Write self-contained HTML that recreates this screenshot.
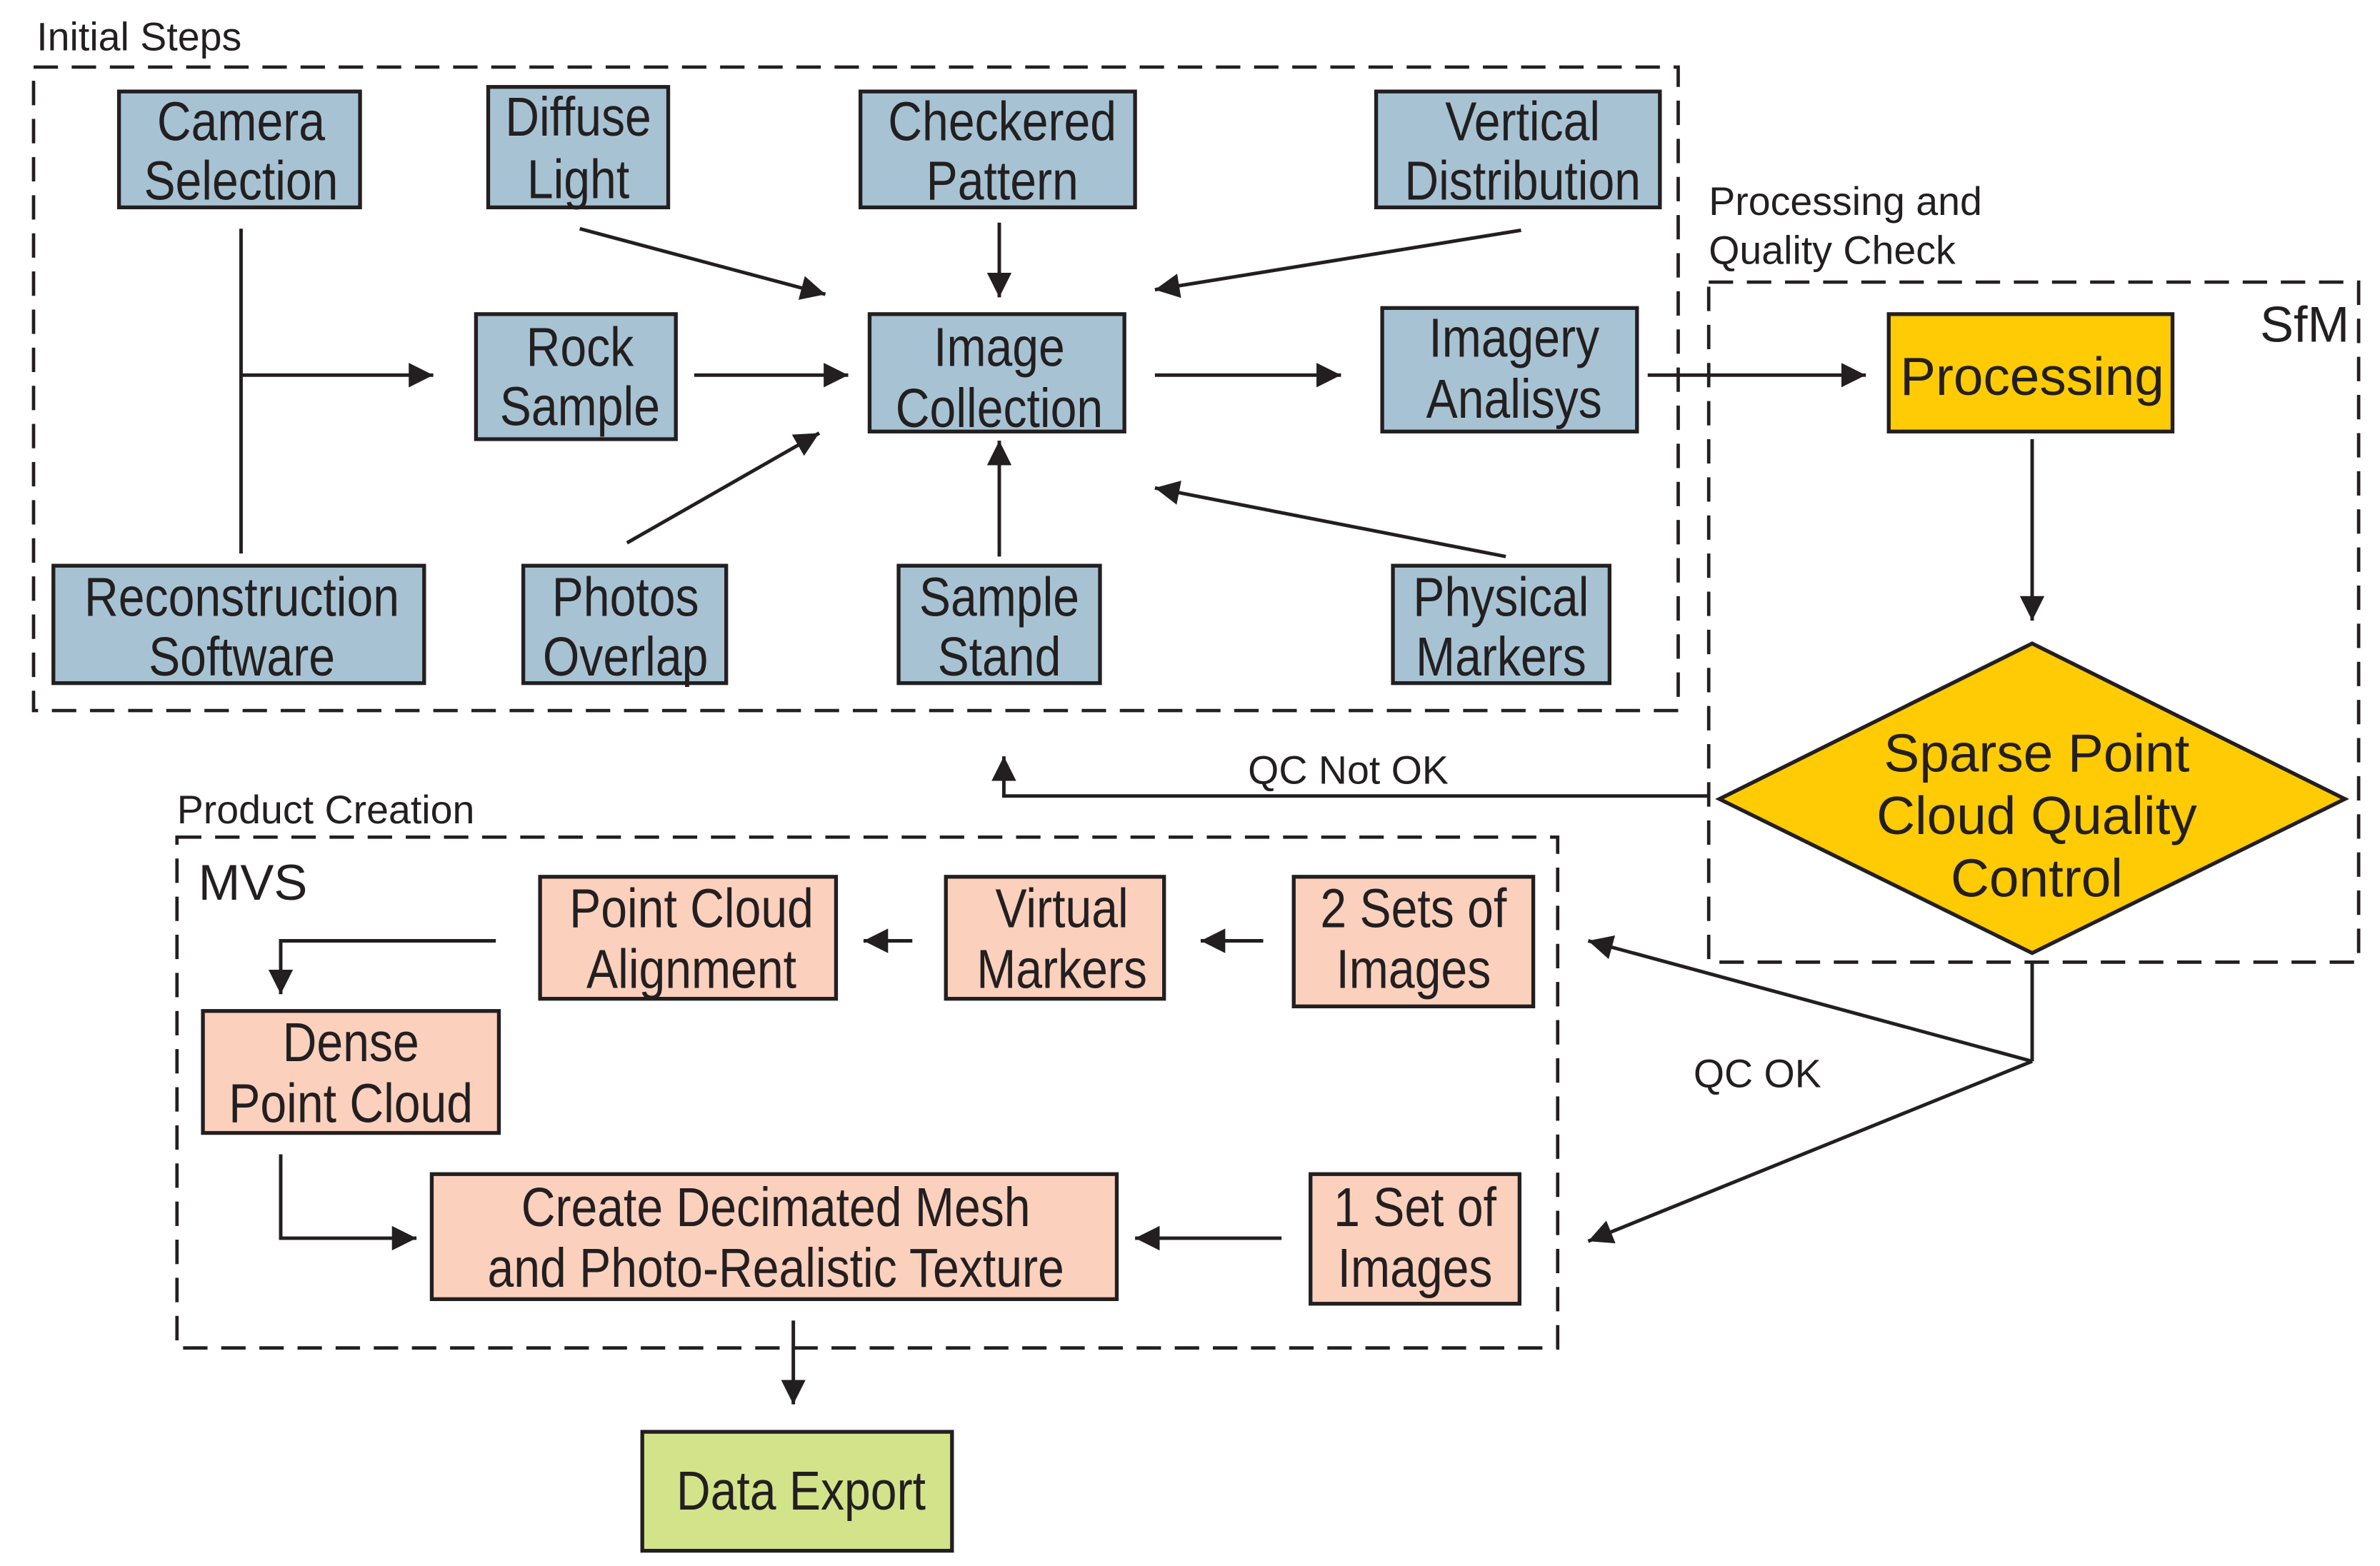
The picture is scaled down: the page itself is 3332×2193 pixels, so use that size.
<!DOCTYPE html>
<html><head><meta charset="utf-8"><style>html,body{margin:0;padding:0;background:#fff}svg{display:block}</style></head>
<body>
<svg width="3332" height="2193" viewBox="0 0 1560 1027" preserveAspectRatio="none" xmlns="http://www.w3.org/2000/svg" font-family="Liberation Sans, sans-serif">
<defs>
<marker id="b" viewBox="0 0 10 10" refX="10" refY="5" markerWidth="7" markerHeight="7" orient="auto"><path d="M0,0 L10,5 L0,10 z" fill="#231f20"/></marker>
</defs>
<g fill="none" stroke="#231f20" stroke-width="2.2" stroke-dasharray="16,9">
<rect x="22" y="44" width="1078" height="422"/>
<rect x="1120" y="185" width="426" height="446"/>
<rect x="116" y="549" width="905" height="335"/>
</g>
<g fill="#231f20" font-size="26">
<text x="24" y="33">Initial Steps</text>
<text x="1120" y="141">Processing and</text>
<text x="1120" y="173">Quality Check</text>
<text x="116" y="540">Product Creation</text>
<text x="818" y="514">QC Not OK</text>
<text x="1110" y="713">QC OK</text>
<text x="1540" y="224" font-size="33" text-anchor="end">SfM</text>
<text x="130" y="590" font-size="33">MVS</text>
</g>
<g stroke="#231f20" stroke-width="2.5">
<g fill="#a7c3d3">
<rect x="78" y="60" width="158" height="76"/>
<rect x="320" y="57" width="118" height="79"/>
<rect x="564" y="60" width="180" height="76"/>
<rect x="902" y="60" width="186" height="76"/>
<rect x="312" y="206" width="131" height="82"/>
<rect x="570" y="206" width="167" height="77"/>
<rect x="906" y="202" width="167" height="81"/>
<rect x="35" y="371" width="243" height="77"/>
<rect x="343" y="371" width="133" height="77"/>
<rect x="589" y="371" width="132" height="77"/>
<rect x="913" y="371" width="142" height="77"/>
</g>
<g fill="#fbd0bd">
<rect x="354" y="575" width="194" height="80"/>
<rect x="620" y="575" width="143" height="80"/>
<rect x="848" y="575" width="157" height="85"/>
<rect x="133" y="663" width="194" height="80"/>
<rect x="283" y="770" width="449" height="82"/>
<rect x="859" y="770" width="137" height="85"/>
</g>
<rect x="421" y="939" width="203" height="78" fill="#d3e38a"/>
<rect x="1238" y="206" width="186" height="77" fill="#ffcb05"/>
<polygon points="1127,524 1332,422 1537,524 1332,625" fill="#ffcb05"/>
</g>
<g stroke="#231f20" stroke-width="2.3" fill="none">
<path d="M158,150 V363"/>
<path d="M158,246 H284" marker-end="url(#b)"/>
<path d="M455,246 H556" marker-end="url(#b)"/>
<path d="M757,246 H879" marker-end="url(#b)"/>
<path d="M380,150 L541,193" marker-end="url(#b)"/>
<path d="M655,146 V195" marker-end="url(#b)"/>
<path d="M997,151 L757,190" marker-end="url(#b)"/>
<path d="M411,356 L537,284" marker-end="url(#b)"/>
<path d="M655,365 V289" marker-end="url(#b)"/>
<path d="M987,365 L757,320" marker-end="url(#b)"/>
<path d="M1080,246 H1223" marker-end="url(#b)"/>
<path d="M1332,288 V407" marker-end="url(#b)"/>
<path d="M1120,522 H658 V496" marker-end="url(#b)"/>
<path d="M1332,631 V696"/>
<path d="M1332,696 L1041,617" marker-end="url(#b)"/>
<path d="M1332,696 L1041,814" marker-end="url(#b)"/>
<path d="M828,617 H787" marker-end="url(#b)"/>
<path d="M598,617 H566" marker-end="url(#b)"/>
<path d="M325,617 H184 V652" marker-end="url(#b)"/>
<path d="M184,757 V812 H273" marker-end="url(#b)"/>
<path d="M840,812 H744" marker-end="url(#b)"/>
<path d="M520,866 V921" marker-end="url(#b)"/>
</g>
<g fill="#231f20" font-size="36" text-anchor="middle" transform="scale(0.86 1)">
<text x="183.7" y="92">Camera</text><text x="183.7" y="131">Selection</text>
<text x="440.7" y="89">Diffuse</text><text x="440.7" y="130">Light</text>
<text x="763.9" y="92">Checkered</text><text x="763.9" y="131">Pattern</text>
<text x="1160.5" y="92">Vertical</text><text x="1160.5" y="131">Distribution</text>
<text x="442" y="240">Rock</text><text x="442" y="279">Sample</text>
<text x="761.6" y="240">Image</text><text x="761.6" y="280">Collection</text>
<text x="1154" y="234">Imagery</text><text x="1154" y="274">Analisys</text>
<text x="184.3" y="404">Reconstruction</text><text x="184.3" y="443">Software</text>
<text x="476.7" y="404">Photos</text><text x="476.7" y="443">Overlap</text>
<text x="761.6" y="404">Sample</text><text x="761.6" y="443">Stand</text>
<text x="1144" y="404">Physical</text><text x="1144" y="443">Markers</text>
<text x="527" y="608">Point Cloud</text><text x="527" y="648">Alignment</text>
<text x="809.3" y="608">Virtual</text><text x="809.3" y="648">Markers</text>
<text x="1077.3" y="608">2 Sets of</text><text x="1077.3" y="648">Images</text>
<text x="267.4" y="696">Dense</text><text x="267.4" y="736">Point Cloud</text>
<text x="591.3" y="804">Create Decimated Mesh</text><text x="591.3" y="844">and Photo-Realistic Texture</text>
<text x="1078.5" y="804">1 Set of</text><text x="1078.5" y="844">Images</text>
<text x="610.5" y="990">Data Export</text>
</g>
<g fill="#231f20" font-size="35" text-anchor="middle">
<text x="1332" y="259">Processing</text>
<text x="1335" y="506">Sparse Point</text>
<text x="1335" y="547">Cloud Quality</text>
<text x="1335" y="588">Control</text>
</g>
</svg>
</body></html>
